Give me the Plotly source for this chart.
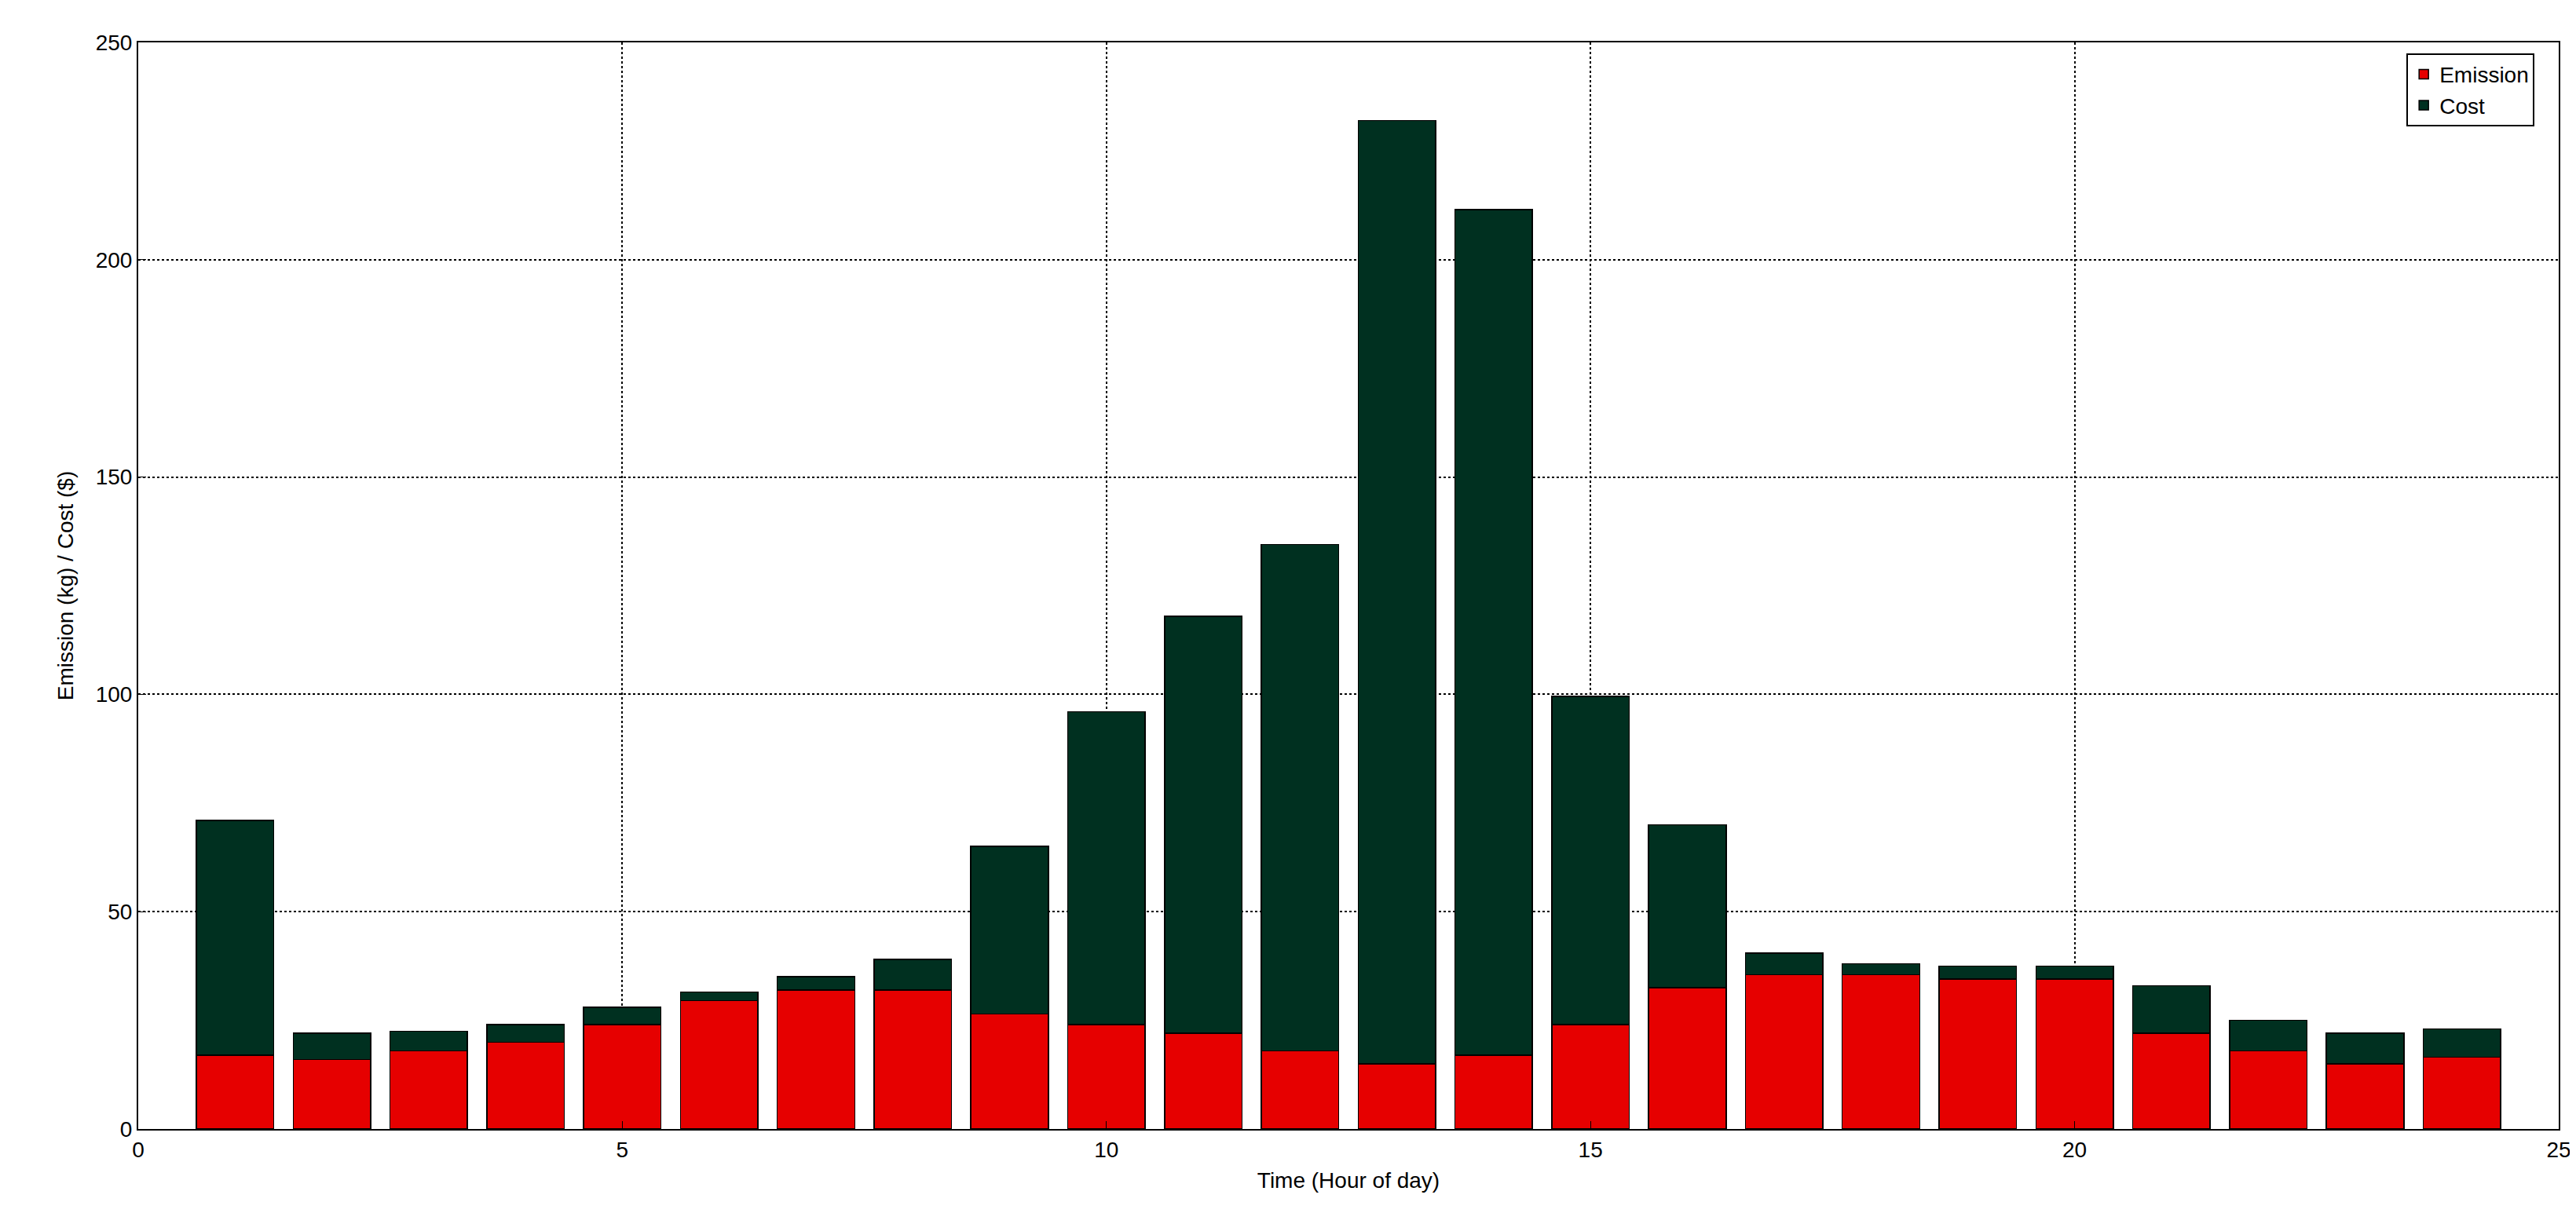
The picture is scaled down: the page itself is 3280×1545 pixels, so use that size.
import plotly.graph_objects as go

hours = list(range(1, 25))
emission = [17, 16, 18, 20, 24, 29.5, 32, 32, 26.5, 24, 22, 18, 15, 17, 24, 32.5, 35.5, 35.5, 34.5, 34.5, 22, 18, 15, 16.5]
total = [71, 22, 22.5, 24, 28, 31.5, 35, 39, 65, 96, 118, 134.5, 232, 211.5, 99.5, 70, 40.5, 38, 37.5, 37.5, 33, 25, 22, 23]
cost = [t - e for t, e in zip(total, emission)]

fig = go.Figure()
fig.add_bar(x=hours, y=emission, name="Emission", marker=dict(color="#e60000", line=dict(color="black", width=1.5)), width=0.8)
fig.add_bar(x=hours, y=cost, name="Cost", marker=dict(color="#003020", line=dict(color="black", width=1.5)), width=0.8)

ax = dict(showline=True, linecolor="black", linewidth=2, mirror=True, ticks="inside", ticklen=10,
          tickcolor="black", showgrid=True, gridcolor="black", griddash="dot", gridwidth=1.5,
          zeroline=False, tickfont=dict(size=28, family="Liberation Sans", color="black"))
fig.update_layout(
    barmode="stack", width=3280, height=1545, plot_bgcolor="white", paper_bgcolor="white",
    margin=dict(l=168, r=30, t=46, b=115),
    xaxis=dict(ax, range=[0, 25], tickvals=[0, 5, 10, 15, 20, 25],
               title=dict(text="Time (Hour of day)", font=dict(size=28, family="Liberation Sans", color="black"), standoff=15)),
    yaxis=dict(ax, range=[0, 250], tickvals=[0, 50, 100, 150, 200, 250],
               title=dict(text="Emission (kg) / Cost ($)", font=dict(size=28, family="Liberation Sans", color="black"), standoff=20)),
    legend=dict(x=0.99, y=0.99, xanchor="right", yanchor="top", bordercolor="black", borderwidth=2,
                bgcolor="white", font=dict(size=28, family="Liberation Sans", color="black"), traceorder="normal"),
)
fig.write_html("out.html")
